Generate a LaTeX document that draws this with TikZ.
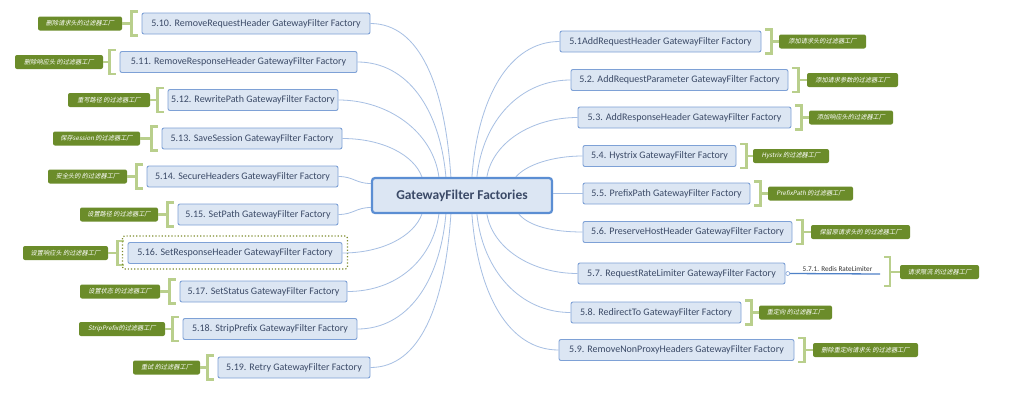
\documentclass[tikz,border=0pt]{standalone}
\usepackage{fontspec}
\setmainfont{Carlito}
\newfontfamily\cjk[FakeSlant=0.2]{Noto Sans CJK SC}
\usetikzlibrary{calc}
\definecolor{boxfill}{HTML}{DCE6F3}
\definecolor{boxline}{HTML}{7EA1D6}
\definecolor{boxtext}{HTML}{3B4A67}
\definecolor{mainline}{HTML}{5B8ED3}
\definecolor{connblue}{HTML}{A7BFE3}
\definecolor{notegreen}{HTML}{6B8C2A}
\definecolor{brackgreen}{HTML}{B9CF8C}
\definecolor{dotgreen}{HTML}{7F8C2E}
\definecolor{subline}{HTML}{4F81C7}
\tikzset{
  branch/.style={draw=boxline, fill=boxfill, line width=0.9pt, rounded corners=2pt,
    minimum height=21pt, inner xsep=0pt, inner ysep=0pt, text=boxtext,
    font=\fontsize{10}{12}\selectfont},
  mainbox/.style={draw=mainline, fill=boxfill, line width=2.2pt, rounded corners=3pt,
    minimum width=180pt, minimum height=35pt, inner sep=0pt, text=boxtext,
    font=\bfseries\fontsize{13.5}{16}\selectfont},
  note/.style={fill=notegreen, rounded corners=2pt, minimum height=14pt, inner sep=0pt,
    text=white, font=\cjk\fontsize{6.2}{7}\selectfont},
  brk/.style={draw=brackgreen, line width=2.2pt},
  conn/.style={draw=connblue, line width=0.8pt},
}
\begin{document}
\begin{tikzpicture}[x=1pt,y=-1pt]
\useasboundingbox (0,0) rectangle (1019,418);
\fill[white] (0,0) rectangle (1019,418);

\node[mainbox] (main) at (462,195.5) {GatewayFilter Factories};

% left branches
\foreach \nm/\cx/\cy/\bw/\txt/\lx/\lw/\lab in {
 b10/256/23.5/228/{5.10. RemoveRequestHeader GatewayFilter Factory}/80/84/{删除请求头的过滤器工厂},
 b11/238.5/62/237/{5.11. RemoveResponseHeader GatewayFilter Factory}/59/88/{删除响应头 的过滤器工厂},
 b12/253/100/170/{5.12. RewritePath GatewayFilter Factory}/109/82/{重写路径 的过滤器工厂},
 b13/252/138.5/180/{5.13. SaveSession GatewayFilter Factory}/96.5/87/{保存session 的过滤器工厂},
 b14/242.5/176.5/191/{5.14. SecureHeaders GatewayFilter Factory}/87.5/79/{安全头的 的过滤器工厂},
 b15/258/214.5/160/{5.15. SetPath GatewayFilter Factory}/119/78/{设置路径 的过滤器工厂},
 b16/235/253/214/{5.16. SetResponseHeader GatewayFilter Factory}/65.5/85/{设置响应头 的过滤器工厂},
 b17/263.5/291.5/167/{5.17. SetStatus GatewayFilter Factory}/120/80/{设置状态 的过滤器工厂},
 b18/270/329/174/{5.18. StripPrefix GatewayFilter Factory}/122/86/{StripPrefix的过滤器工厂},
 b19/294/367.5/152/{5.19. Retry GatewayFilter Factory}/166.5/67/{重试 的过滤器工厂}}
{
  \node[branch, minimum width=\bw pt] (\nm) at (\cx,\cy) {\txt};
  \node[note, minimum width=\lw pt] (\nm-l) at (\lx,\cy) {\lab};
  \coordinate (\nm-m) at ($(\nm.west)+(-10,0)$);
  \draw[brk] (\nm-l.east) -- (\nm-m);
  \draw[brk] ($(\nm.west)+(-4,-12)$) -- ($(\nm-m)+(0,-12)$) -- ($(\nm-m)+(0,12)$) -- ($(\nm.west)+(-4,12)$);
}

% right branches
\foreach \nm/\cx/\cy/\bw/\txt/\lx/\lw/\lab in {
 r1/660.5/41.5/201/{5.1AddRequestHeader GatewayFilter Factory}/822.5/87/{添加请求头的过滤器工厂},
 r2/679.5/80/217/{5.2. AddRequestParameter GatewayFilter Factory}/852.5/91/{添加请求参数的过滤器工厂},
 r3/684.5/117.5/213/{5.3. AddResponseHeader GatewayFilter Factory}/851/84/{添加响应头的过滤器工厂},
 r4/659.5/156/153/{5.4. Hystrix GatewayFilter Factory}/791/76/{Hystrix 的过滤器工厂},
 r5/666.5/193.5/167/{5.5. PrefixPath GatewayFilter Factory}/810.5/85/{PrefixPath 的过滤器工厂},
 r6/687.5/232/209/{5.6. PreserveHostHeader GatewayFilter Factory}/860.5/99/{保留原请求头的 的过滤器工厂},
 r8/656/312.5/170/{5.8. RedirectTo GatewayFilter Factory}/795.5/73/{重定向 的过滤器工厂},
 r9/676.5/350/235/{5.9. RemoveNonProxyHeaders GatewayFilter Factory}/865.5/105/{删除重定向请求头 的过滤器工厂}}
{
  \node[branch, minimum width=\bw pt] (\nm) at (\cx,\cy) {\txt};
  \node[note, minimum width=\lw pt] (\nm-l) at (\lx,\cy) {\lab};
  \coordinate (\nm-m) at ($(\nm.east)+(10,0)$);
  \draw[brk] (\nm-l.west) -- (\nm-m);
  \draw[brk] ($(\nm.east)+(4,-12)$) -- ($(\nm-m)+(0,-12)$) -- ($(\nm-m)+(0,12)$) -- ($(\nm.east)+(4,12)$);
}

% 5.7 with sub-branch
\node[branch, minimum width=207pt] (r7) at (681.5,273.5) {5.7. RequestRateLimiter GatewayFilter Factory};
\node[draw=boxline, fill=white, circle, inner sep=0pt, minimum size=4pt, line width=0.6pt, anchor=west] (r7c) at (r7.east) {};
\coordinate (r7e) at (880,274);
\draw[subline, line width=1.3pt] (r7c.east) -- (r7e);
\node[inner sep=0pt, font=\fontsize{7.2}{8}\selectfont, text=black!80, anchor=south] (r7s) at (837.5,271.5) {5.7.1. Redis RateLimiter};
\node[note, minimum width=79pt] (r7-l) at (939.5,272) {请求限流 的过滤器工厂};
\coordinate (r7-m) at (890,272);
\draw[brk] (r7-l.west) -- (r7-m);
\draw[brk] (884,257) -- (890,257) -- (890,286) -- (884,286);

% selection highlight around 5.16
\draw[dotgreen, dotted, line width=1.2pt, rounded corners=2pt]
  ($(b16.north west)+(-5,-6)$) rectangle ($(b16.south east)+(5,5)$);

% connectors left top
\draw[conn] ($(main.north west)+(80,0)$) .. controls +(-6,-90) and +(50,0) .. (b10.east);
\draw[conn] ($(main.north west)+(75,0)$) .. controls +(-6,-68) and +(50,0) .. (b11.east);
\draw[conn] ($(main.north west)+(68,0)$) .. controls +(-6,-45) and +(50,0) .. (b12.east);
\draw[conn] ($(main.north west)+(51,0)$) .. controls +(-8,-22) and +(40,0) .. (b13.east);
\draw[conn] ($(main.west)+(0,-12)$) .. controls +(-15,0) and +(15,0) .. (b14.east);
\draw[conn] ($(main.west)+(0,12)$) .. controls +(-15,0) and +(15,0) .. (b15.east);
% connectors left bottom
\draw[conn] ($(main.south west)+(51,0)$) .. controls +(-8,22) and +(40,0) .. (b16.east);
\draw[conn] ($(main.south west)+(68,0)$) .. controls +(-6,45) and +(50,0) .. (b17.east);
\draw[conn] ($(main.south west)+(75,0)$) .. controls +(-6,68) and +(50,0) .. (b18.east);
\draw[conn] ($(main.south west)+(80,0)$) .. controls +(-6,90) and +(50,0) .. (b19.east);
% connectors right top
\draw[conn] ($(main.north west)+(101,0)$) .. controls +(6,-80) and +(-50,0) .. (r1.west);
\draw[conn] ($(main.north west)+(106,0)$) .. controls +(6,-57) and +(-50,0) .. (r2.west);
\draw[conn] ($(main.north west)+(116,0)$) .. controls +(6,-35) and +(-45,0) .. (r3.west);
\draw[conn] ($(main.north west)+(145,0)$) .. controls +(10,-12) and +(-30,0) .. (r4.west);
\draw[conn] (r5.west -| main.east) -- (r5.west);
% connectors right bottom
\draw[conn] ($(main.south west)+(148,0)$) .. controls +(10,12) and +(-30,0) .. (r6.west);
\draw[conn] ($(main.south west)+(116,0)$) .. controls +(6,35) and +(-45,0) .. (r7.west);
\draw[conn] ($(main.south west)+(106,0)$) .. controls +(6,57) and +(-50,0) .. (r8.west);
\draw[conn] ($(main.south west)+(101,0)$) .. controls +(6,80) and +(-50,0) .. (r9.west);
\end{tikzpicture}
\end{document}
